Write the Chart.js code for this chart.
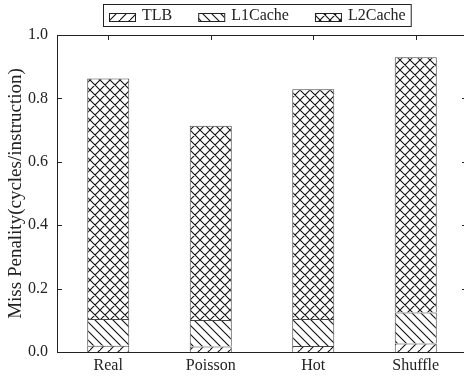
<!DOCTYPE html>
<html>
<head>
<meta charset="utf-8">
<script src="https://cdn.jsdelivr.net/npm/chart.js@4/dist/chart.umd.min.js"></script>
<style>
  html, body { margin: 0; padding: 0; background: #fff; overflow: hidden; }
  #wrap { width: 472px; height: 376px; position: relative; }
</style>
</head>
<body>
<div id="wrap"><canvas id="chart"></canvas></div>
<script>
// data
const categories = ['Real', 'Poisson', 'Hot', 'Shuffle'];
const seriesNames = ['TLB', 'L1Cache', 'L2Cache'];
const tlb = [0.020, 0.017, 0.019, 0.027];
const l1Cache = [0.084, 0.084, 0.085, 0.098];
const l2Cache = [0.759, 0.613, 0.725, 0.805];
const yTicks = [0, 0.2, 0.4, 0.6, 0.8, 1.0];

const FONT = '"Liberation Serif", "DejaVu Serif", serif';
const INK = '#222';

// hatch tiles
function hatch(kind, size) {
    const c = document.createElement('canvas');
    c.width = size; c.height = size;
    const g = c.getContext('2d');
    g.fillStyle = '#fff';
    g.fillRect(0, 0, size, size);
    g.strokeStyle = '#111';
    g.lineWidth = 1.1;
    g.beginPath();
    if (kind === 'fwd' || kind === 'cross') {
        g.moveTo(-1, size + 1); g.lineTo(size + 1, -1);
        g.moveTo(-1 - size, size + 1); g.lineTo(1, -1);
        g.moveTo(size - 1, 2 * size + 1); g.lineTo(2 * size + 1, size - 1);
    }
    if (kind === 'back' || kind === 'cross') {
        g.moveTo(-1, -1); g.lineTo(size + 1, size + 1);
        g.moveTo(-1 - size, -1); g.lineTo(1, size + 1);
        g.moveTo(size - 1, -1); g.lineTo(2 * size + 1, size + 1);
    }
    g.stroke();
    return g.createPattern(c, 'repeat');
}

const ctx = document.getElementById('chart').getContext('2d');
const patterns = [hatch('fwd', 10), hatch('back', 9), hatch('cross', 10)];

// frame with inward ticks, and the boxed legend
const framePlugin = {
    id: 'frame',
    afterDraw(chart) {
        const { left, right, top, bottom } = chart.chartArea;
        const y = chart.scales.y, x = chart.scales.x;
        const c = chart.ctx;
        c.save();
        c.strokeStyle = INK;
        c.lineWidth = 1;
        c.beginPath();
        c.moveTo(left + 0.5, top + 0.5); c.lineTo(right + 0.5, top + 0.5);
        c.lineTo(right + 0.5, bottom + 0.5); c.lineTo(left + 0.5, bottom + 0.5);
        c.closePath();
        yTicks.forEach(v => {
            const py = Math.round(y.getPixelForValue(v)) + 0.5;
            c.moveTo(left, py); c.lineTo(left + 5, py);
            c.moveTo(right - 5, py); c.lineTo(right + 1, py);
        });
        categories.forEach((_, i) => {
            const px = Math.round(x.getPixelForValue(i)) + 0.5;
            c.moveTo(px, top); c.lineTo(px, top + 5);
        });
        c.stroke();

        // legend
        c.font = '16px ' + FONT;
        c.textBaseline = 'middle';
        c.fillStyle = INK;
        const sw = 26, sh = 8, gap = 7, spacing = 26;
        const items = chart.data.datasets.map(ds => ({
            text: ds.label, fill: ds.backgroundColor, w: c.measureText(ds.label).width
        }));
        const total = items.reduce((s, it) => s + sw + gap + it.w, 0) + spacing * (items.length - 1);
        let lx = Math.round(257 - total / 2);
        c.strokeRect(lx - 5.5, 4.5, total + 11, 22);
        items.forEach(it => {
            c.fillStyle = it.fill;
            c.fillRect(lx, 13, sw, sh);
            c.strokeRect(lx + 0.5, 13.5, sw, sh);
            c.fillStyle = INK;
            c.fillText(it.text, lx + sw + gap, 16);
            lx += sw + gap + it.w + spacing;
        });
        c.restore();
    }
};

new Chart(ctx, {
    type: 'bar',
    data: {
        labels: categories,
        datasets: [tlb, l1Cache, l2Cache].map((vals, i) => ({
            label: seriesNames[i],
            data: vals,
            backgroundColor: patterns[i],
            borderColor: '#444',
            borderWidth: 1,
            borderSkipped: 'start',
            barPercentage: 0.41,
            categoryPercentage: 1
        }))
    },
    options: {
        responsive: true,
        maintainAspectRatio: false,
        animation: false,
        layout: { padding: { top: 35, right: 5, left: 0, bottom: 0 } },
        plugins: {
            legend: { display: false },
            tooltip: { enabled: false }
        },
        scales: {
            x: {
                stacked: true,
                grid: { display: false, drawTicks: false },
                border: { display: false },
                ticks: { color: INK, font: { family: FONT, size: 16 }, padding: 4 },
                afterFit(s) { s.height = 24; }
            },
            y: {
                stacked: true,
                min: 0,
                max: 1,
                grid: { display: false, drawTicks: false },
                border: { display: false },
                ticks: {
                    stepSize: 0.2,
                    color: INK,
                    font: { family: FONT, size: 16 },
                    padding: 9,
                    callback: v => v.toFixed(1)
                },
                title: {
                    display: true,
                    text: 'Miss Penality(cycles/instruction)',
                    color: INK,
                    font: { family: FONT, size: 19 },
                    padding: { top: 5, bottom: 0 }
                },
                afterFit(s) { s.width = 57; }
            }
        }
    },
    plugins: [framePlugin]
});
</script>
</body>
</html>
